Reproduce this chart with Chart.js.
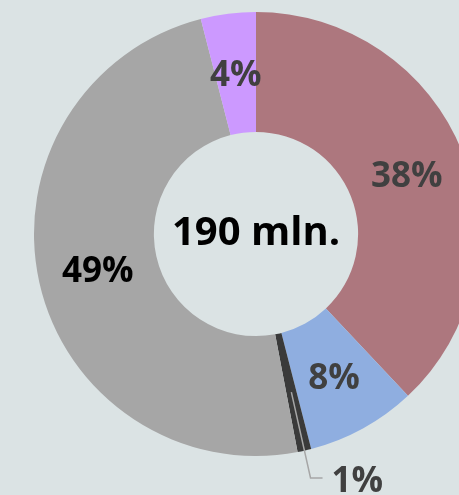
<!DOCTYPE html>
<html>
<head>
<meta charset="utf-8">
<script src="https://cdn.jsdelivr.net/npm/chart.js@4/dist/chart.umd.min.js"></script>
<style>
html,body{margin:0;padding:0;background:#dbe3e4;overflow:hidden;width:459px;height:495px;}
#wrap{position:absolute;left:0;top:0;width:512px;height:495px;}
</style>
</head>
<body>
<div id="wrap"><canvas id="c" width="512" height="495"></canvas></div>
<script>
const categories = ["A", "B", "C", "D", "E"];
const values = [38, 8, 1, 49, 4];
const valueLabels = ["38%", "8%", "1%", "49%", "4%"];
const colors = ["#ad777e", "#8faee0", "#3a3a3a", "#a6a6a6", "#cc99ff"];
const labelColors = ["#404040", "#404040", "#404040", "#000000", "#404040"];
const centerText = "190 mln.";

const FONT = '"Open Sans", "DejaVu Sans", sans-serif';

const labelPlugin = {
  id: 'labels',
  afterDatasetsDraw(chart) {
    const ctx = chart.ctx;
    const meta = chart.getDatasetMeta(0);
    ctx.save();
    ctx.textAlign = 'center';
    ctx.textBaseline = 'middle';
    meta.data.forEach((arc, i) => {
      const p = arc.getProps(['x','y','startAngle','endAngle','innerRadius','outerRadius']);
      const mid = (p.startAngle + p.endAngle) / 2;
      const r = (p.innerRadius + p.outerRadius) / 2;
      const cx = p.x + Math.cos(mid) * r;
      const cy = p.y + Math.sin(mid) * r;
      ctx.font = 'bold 35px ' + FONT;
      ctx.fillStyle = labelColors[i];
      if (values[i] < 2) {
        const r2 = p.outerRadius + 28;
        const ex = p.x + Math.cos(mid) * r2;
        const ey = p.y + Math.sin(mid) * r2;
        ctx.strokeStyle = '#a6a6a6';
        ctx.lineWidth = 1.5;
        ctx.beginPath();
        ctx.moveTo(cx, cy);
        ctx.lineTo(ex, ey);
        ctx.lineTo(ex + 12, ey);
        ctx.stroke();
        ctx.textAlign = 'left';
        ctx.fillText(valueLabels[i], ex + 21, ey + 4);
        ctx.textAlign = 'center';
      } else {
        ctx.fillText(valueLabels[i], cx, cy + 3);
      }
    });
    const p0 = meta.data[0];
    ctx.font = 'bold 40px ' + FONT;
    ctx.fillStyle = '#000000';
    ctx.fillText(centerText, p0.x, p0.y);
    ctx.restore();
  }
};

new Chart(document.getElementById('c'), {
  type: 'doughnut',
  data: {
    labels: categories,
    datasets: [{
      data: values,
      backgroundColor: colors,
      borderWidth: 0
    }]
  },
  options: {
    responsive: false,
    animation: false,
    cutout: '46%',
    layout: { padding: { left: 12, right: 12, top: 12, bottom: 39 } },
    plugins: {
      legend: { display: false },
      tooltip: { enabled: false }
    }
  },
  plugins: [labelPlugin]
});
</script>
</body>
</html>
